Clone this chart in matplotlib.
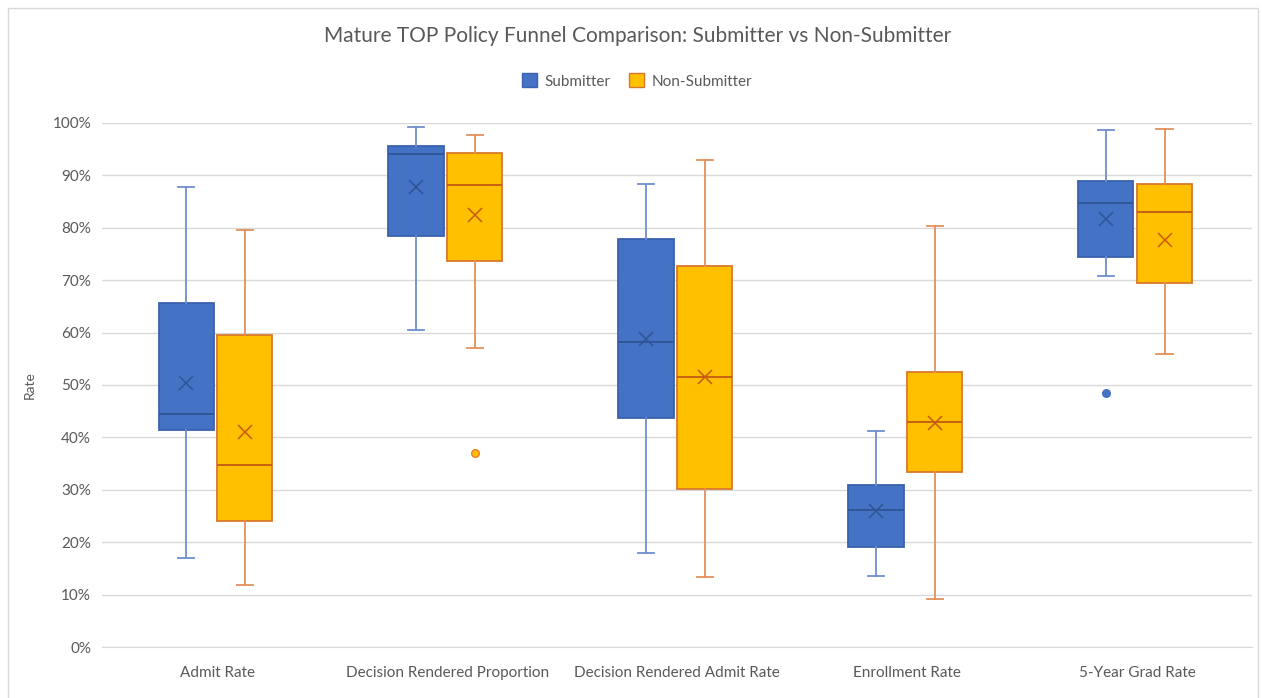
import matplotlib.pyplot as plt
from matplotlib.patches import Patch, Rectangle
from matplotlib.ticker import PercentFormatter

plt.rcParams['font.family'] = ['Lato', 'DejaVu Sans']

categories = ['Admit Rate', 'Decision Rendered Proportion', 'Decision Rendered Admit Rate',
              'Enrollment Rate', '5-Year Grad Rate']

# box stats (percent)
sub_whislo = [16.9, 60.5, 17.9, 13.5, 70.8]
sub_q1 = [41.5, 78.4, 43.6, 19.0, 74.5]
sub_med = [44.4, 94.1, 58.2, 26.2, 84.7]
sub_q3 = [65.7, 95.6, 77.8, 31.0, 88.9]
sub_whishi = [87.8, 99.3, 88.4, 41.3, 98.6]
sub_mean = [50.3, 87.7, 58.7, 26.0, 81.7]
sub_fliers = [[], [], [], [], [48.5]]

non_whislo = [11.8, 57.0, 13.4, 9.2, 55.9]
non_q1 = [24.1, 73.7, 30.2, 33.3, 69.5]
non_med = [34.7, 88.2, 51.5, 42.9, 82.9]
non_q3 = [59.5, 94.3, 72.6, 52.5, 88.3]
non_whishi = [79.5, 97.6, 92.9, 80.4, 98.9]
non_mean = [41.1, 82.4, 51.6, 42.7, 77.7]
non_fliers = [[], [37.0], [], [], []]


def make_stats(lo, q1, med, q3, hi, mean, fliers):
    return [dict(whislo=a, q1=b, med=c, q3=d, whishi=e, mean=f, fliers=g)
            for a, b, c, d, e, f, g in zip(lo, q1, med, q3, hi, mean, fliers)]


fig = plt.figure(figsize=(12.62, 6.98), dpi=100)
ax = fig.add_axes([0.081, 0.073, 0.911, 0.751])

groups = [
    (make_stats(sub_whislo, sub_q1, sub_med, sub_q3, sub_whishi, sub_mean, sub_fliers),
     -0.135, '#4472C4', '#3A62AD', '#6F8FCF', '#2F5597', '#4472C4', '#4472C4'),
    (make_stats(non_whislo, non_q1, non_med, non_q3, non_whishi, non_mean, non_fliers),
     0.12, '#FFC000', '#D9782C', '#E3905A', '#C55A11', '#FFC000', '#ED7D31'),
]

for stats, off, fill, edge, whisk, med, fl_face, fl_edge in groups:
    pos = [i + off for i in range(len(categories))]
    ax.bxp(stats, positions=pos, widths=0.24, capwidths=0.07, patch_artist=True,
           showmeans=True, showfliers=True, manage_ticks=False,
           boxprops=dict(facecolor=fill, edgecolor=edge, linewidth=1.3),
           whiskerprops=dict(color=whisk, linewidth=1.3),
           capprops=dict(color=whisk, linewidth=1.3),
           medianprops=dict(color=med, linewidth=1.3),
           meanprops=dict(marker='x', markeredgecolor=med, markersize=10, markeredgewidth=1.1),
           flierprops=dict(marker='o', markerfacecolor=fl_face, markeredgecolor=fl_edge,
                           markersize=5.5, markeredgewidth=1))

ax.set_xlim(-0.5, len(categories) - 0.5)
ax.set_ylim(0, 100)
ax.set_yticks(range(0, 101, 10))
ax.yaxis.set_major_formatter(PercentFormatter(decimals=0))
ax.set_xticks(range(len(categories)))
ax.set_xticklabels(categories)
ax.tick_params(axis='both', length=0, labelsize=11, colors='#595959', pad=8)
ax.tick_params(axis='x', pad=14)
ax.grid(axis='y', color='#D9D9D9', linewidth=1)
ax.set_axisbelow(True)
for s in ['top', 'right', 'left']:
    ax.spines[s].set_visible(False)
ax.spines['bottom'].set_color('#D9D9D9')
ax.set_ylabel('Rate', fontsize=10, color='#595959', labelpad=12)

fig.text(0.505, 0.948, 'Mature TOP Policy Funnel Comparison: Submitter vs Non-Submitter',
         ha='center', va='center', fontsize=15, color='#595959')

handles = [Patch(facecolor='#4472C4', edgecolor='#3A62AD', label='Submitter'),
           Patch(facecolor='#FFC000', edgecolor='#D9782C', label='Non-Submitter')]
fig.legend(handles=handles, loc='center', bbox_to_anchor=(0.505, 0.884), ncol=2,
           frameon=False, fontsize=11, labelcolor='#595959', handlelength=1.0,
           handleheight=1.0, handletextpad=0.5, columnspacing=1.2)

fig.patches.append(Rectangle((8 / 1262, -0.02), 1250 / 1262, 1.004 - 11 / 698 + 0.02,
                             transform=fig.transFigure, fill=False,
                             edgecolor='#D9D9D9', linewidth=1))

fig.savefig('out.png', dpi=100)
